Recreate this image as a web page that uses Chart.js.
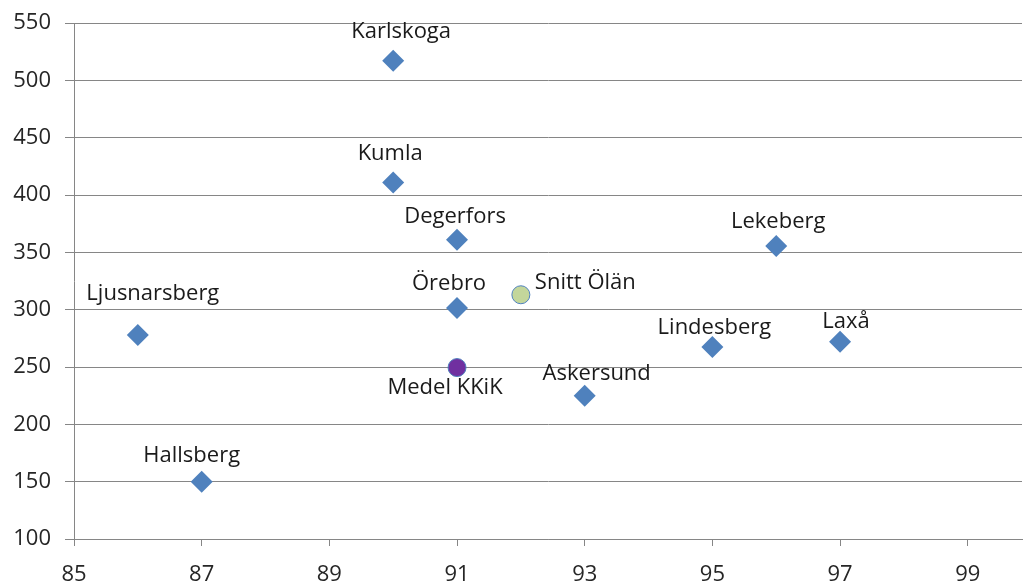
<!DOCTYPE html>
<html>
<head>
<meta charset="utf-8">
<script src="https://cdn.jsdelivr.net/npm/chart.js@4"></script>
<style>
    html, body { margin: 0; padding: 0; background: #fff; overflow: hidden; }
    #wrap { width: 1024px; height: 586px; }
</style>
</head>
<body>
<div id="wrap"><canvas id="kkik-scatter"></canvas></div>
<script>
var kommuner = ["Karlskoga", "Kumla", "Degerfors", "Lekeberg", "Örebro", "Ljusnarsberg", "Lindesberg", "Laxå", "Askersund", "Hallsberg"];
var kommunX = [90, 90, 91, 96, 91, 86, 95, 97, 93, 87];
var kommunY = [517, 411, 361, 355.5, 301.5, 278, 267.5, 272, 225, 150];

var snittNamn = ["Snitt Ölän"];
var snittX = [92];
var snittY = [313];

var medelNamn = ["Medel KKiK"];
var medelX = [91];
var medelY = [249.5];

var xTicks = [85, 87, 89, 91, 93, 95, 97, 99];

// label offsets (px) from each marker: [dx, dy, align]
var kommunLabelPos = [[8, -29, "center"], [-3, -29, "center"], [-2, -23, "center"], [2, -24, "center"], [-8, -24, "center"],
    [15, -41, "center"], [2, -19, "center"], [6, -20, "center"], [12, -22, "center"], [-10, -26, "center"]];
var snittLabelPos = [[14, -12, "left"]];
var medelLabelPos = [[-12, 20, "center"]];

var FONT = "Open Sans";

function points(xs, ys) {
    return xs.map(function (x, i) { return { x: x, y: ys[i] }; });
}

var pointLabels = {
    id: "pointLabels",
    afterDatasetsDraw: function (chart) {
        var ctx = chart.ctx;
        ctx.save();
        ctx.font = "22px '" + FONT + "'";
        ctx.fillStyle = "#1a1a1a";
        ctx.textBaseline = "middle";
        chart.data.datasets.forEach(function (ds, di) {
            var meta = chart.getDatasetMeta(di);
            meta.data.forEach(function (pt, i) {
                var pos = ds.labelPos[i];
                ctx.textAlign = pos[2];
                ctx.fillText(ds.names[i], pt.x + pos[0], pt.y + pos[1]);
            });
        });
        ctx.restore();
    }
};

function noPad(scale) {
    scale.paddingLeft = 0;
    scale.paddingRight = 0;
    scale.paddingTop = 0;
    scale.paddingBottom = 0;
}

new Chart("kkik-scatter", {
    type: "scatter",
    data: {
        datasets: [
            {
                data: points(kommunX, kommunY),
                names: kommuner,
                labelPos: kommunLabelPos,
                pointStyle: "rectRot",
                pointRadius: 11,
                pointHoverRadius: 11,
                backgroundColor: "#4F81BD",
                borderColor: "#4F81BD",
                borderWidth: 0
            },
            {
                data: points(snittX, snittY),
                names: snittNamn,
                labelPos: snittLabelPos,
                pointStyle: "circle",
                pointRadius: 9,
                backgroundColor: "#C3D69B",
                borderColor: "#4F81BD",
                borderWidth: 1
            },
            {
                data: points(medelX, medelY),
                names: medelNamn,
                labelPos: medelLabelPos,
                pointStyle: "circle",
                pointRadius: 9,
                backgroundColor: "#7030A0",
                borderColor: "#4F81BD",
                borderWidth: 1
            }
        ]
    },
    options: {
        responsive: true,
        maintainAspectRatio: false,
        animation: false,
        layout: { autoPadding: false, padding: { top: 23, right: 2, left: 0, bottom: 0 } },
        plugins: {
            legend: { display: false },
            tooltip: { enabled: false }
        },
        scales: {
            x: {
                type: "linear",
                min: 85,
                max: 99.85,
                afterBuildTicks: function (scale) {
                    scale.ticks = xTicks.map(function (v) { return { value: v }; });
                },
                afterFit: function (scale) {
                    scale.height = 47;
                    noPad(scale);
                },
                grid: {
                    drawOnChartArea: false,
                    drawTicks: true,
                    tickLength: 7,
                    color: "#868686"
                },
                border: { color: "#868686", width: 1 },
                ticks: {
                    font: { family: FONT, size: 22 },
                    color: "#262626",
                    padding: 16,
                    maxRotation: 0
                }
            },
            y: {
                min: 100,
                max: 550,
                afterFit: function (scale) {
                    scale.width = 74;
                    noPad(scale);
                },
                grid: {
                    color: "#868686",
                    lineWidth: 1,
                    drawTicks: true,
                    tickLength: 9
                },
                border: { color: "#868686", width: 1 },
                ticks: {
                    stepSize: 50,
                    font: { family: FONT, size: 22 },
                    color: "#262626",
                    padding: 14
                }
            }
        }
    },
    plugins: [pointLabels]
});
</script>
</body>
</html>
